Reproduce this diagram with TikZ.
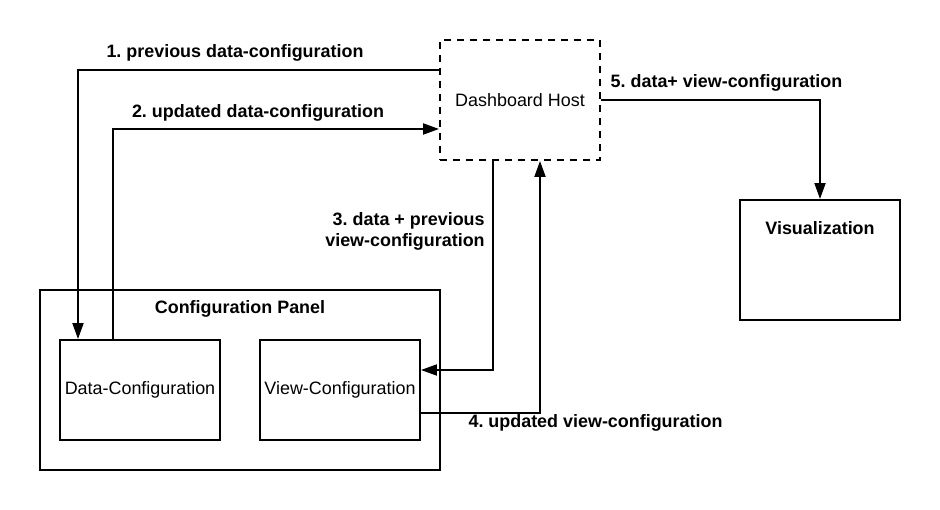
\documentclass[tikz,border=0pt]{standalone}
\usepackage{fontspec}
\setmainfont{Liberation Sans}
\usepackage{tikz}
\usetikzlibrary{arrows.meta,positioning}
\frenchspacing
\newcommand{\dashfont}{\fontsize{10.2pt}{12pt}\selectfont}
\tikzset{
  flow/.style={-{Triangle[length=3.2mm, width=2.2mm]}, line width=1.1pt, draw=black},
  component box/.style={draw=black, line width=1.1pt, align=center,
    minimum width=32mm, minimum height=20mm, inner sep=0pt, font=\dashfont},
  host box/.style={component box, dash pattern=on 1.4mm off 1.2mm,
    minimum height=24mm},
  view box/.style={component box, minimum height=24mm},
  panel box/.style={draw=black, line width=1.1pt, minimum width=80mm,
    minimum height=36mm, inner sep=0pt},
  box title/.style={font=\dashfont\bfseries, inner sep=0pt},
  flow label/.style={font=\dashfont\bfseries, inner sep=0pt, align=right}
}
\begin{document}
\begin{tikzpicture}
  \useasboundingbox (0,0) rectangle (18.8,10.2);

  % boxes
  \node[host box] (host) at (10.4,8.2) {Dashboard Host};
  \node[view box] (vis) at (16.4,5.0) {};
  \node[box title] (vis title) at ([yshift=-5.8mm]vis.north) {Visualization};
  \node[panel box] (panel) at (4.8,2.6) {};
  \node[box title] (panel title) at ([yshift=-4mm]panel.north) {Configuration Panel};
  \node[component box] (datacfg) at (2.8,2.4) {Data-Configuration};
  \node[component box] (viewcfg) at (6.8,2.4) {View-Configuration};

  % connectors
  \draw[flow] ([yshift=6mm]host.west) -| ([xshift=-12.4mm]datacfg.north);
  \draw[flow] ([xshift=-5.4mm]datacfg.north) |- ([yshift=-5.8mm]host.west);
  \draw[flow] ([xshift=-5.4mm]host.south) |- ([yshift=4mm]viewcfg.east);
  \draw[flow] ([yshift=-4.6mm]viewcfg.east) -| ([xshift=4mm]host.south);
  \draw[flow] (host.east) -| (vis.north);

  % labels
  \node[flow label] (lab1) at (4.7,9.14) {1. previous data-configuration};
  \node[flow label] (lab2) at (5.16,7.94) {2. updated data-configuration};
  \node[flow label, anchor=east] (lab3) at (9.7,5.58)
    {3. data + previous\\view-configuration};
  \node[flow label] (lab4) at (11.91,1.74) {4. updated view-configuration};
  \node[flow label] (lab5) at (14.53,8.54) {5. data+ view-configuration};
\end{tikzpicture}
\end{document}
